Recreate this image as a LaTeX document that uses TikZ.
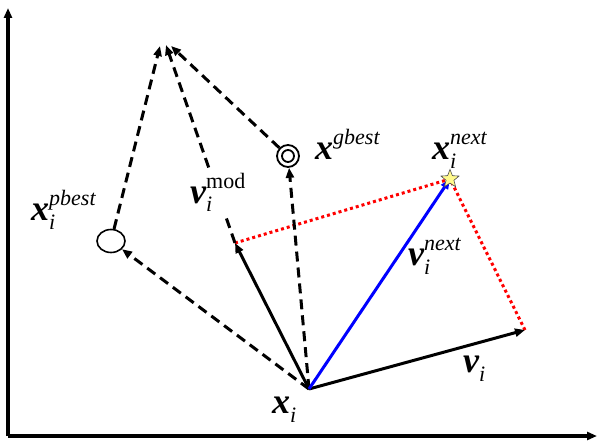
\documentclass[tikz,border=0pt]{standalone}
\usepackage{fontspec}
\setmainfont{Liberation Serif}
\usetikzlibrary{arrows.meta,shapes.geometric}
\newcommand\mylbl[3]{{\fontsize{36}{36}\selectfont\bfseries\itshape #1}{\fontsize{22}{22}\selectfont\itshape\rlap{\raisebox{-9pt}{#2}}\raisebox{15pt}{#3}}}
\begin{document}
\begin{tikzpicture}[x=1pt,y=-1pt,
  tip/.style={-{Triangle[length=10pt,width=8pt]}},
  vec/.style={line width=3pt,tip},
  dvec/.style={vec,dash pattern=on 10pt off 6pt},
  reddot/.style={red,line width=3pt,dash pattern=on 3pt off 3pt},
  lab/.style={anchor=base west,inner sep=0pt}]
\useasboundingbox (0,0) rectangle (597,441);
% axes
\coordinate (ax0) at (8,436);
\coordinate (axy) at (8,8);
\coordinate (axx) at (597,436);
\draw[line width=3.4pt,tip] (ax0) -- (axy);
\draw[line width=3.4pt,tip] (ax0) -- (axx);
% points
\coordinate (O) at (309,389);
\coordinate (V) at (525,330);
\coordinate (M) at (235,243);
\coordinate (A1) at (160,46);
\coordinate (A2) at (166,45);
\coordinate (A3) at (171,46);
\node[draw,ellipse,line width=1.6pt,minimum width=28pt,minimum height=23pt,inner sep=0pt] (P) at (111,241) {};
\node[draw,circle,line width=1.8pt,minimum size=22pt,inner sep=0pt] (G) at (288,156) {};
\node[draw,circle,line width=1.8pt,minimum size=12pt,inner sep=0pt] (Gi) at (288,156) {};
\node[star,star points=5,star point ratio=2.3,minimum size=20pt,inner sep=0pt] (S) at (450,179) {};
% red dotted parallelogram sides
\draw[reddot] (M) -- (S.center) -- (V);
% dashed construction
\draw[dvec] (O) -- (P);
\draw[dvec] (O) -- (G);
\draw[dvec] (P) -- (A1);
\draw[dvec] (M) -- (A2);
\draw[dvec] (G) -- (A3);
% solid vectors
\draw[vec] (O) -- (M);
\draw[vec] (O) -- (V);
\draw[vec,blue] (O) -- (S.center);
\node[star,star points=5,star point ratio=2.3,minimum size=19pt,inner sep=0pt,draw=black!70,fill=yellow!45,line width=0.6pt] (S2) at (450,179) {};
% labels
\node[lab] (lxg) at (315,160) {\mylbl{x}{}{gbest}};
\node[lab] (lxn) at (432,160) {\mylbl{x}{i}{next}};
\node[lab] (lxp) at (31,220) {\mylbl{x}{i}{pbest}};
\node[lab,fill=white,inner sep=2pt] (lvm) at (188,203) {\mylbl{v}{i}{\upshape mod}};
\node[lab] (lvn) at (408,265) {\mylbl{v}{i}{next}};
\node[lab] (lv) at (463,372) {\mylbl{v}{i}{}};
\node[lab] (lx) at (272,413) {\mylbl{x}{i}{}};
\end{tikzpicture}
\end{document}
